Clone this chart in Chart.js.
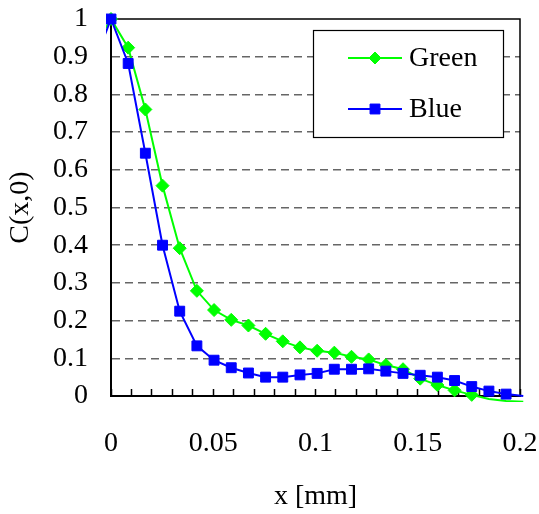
<!DOCTYPE html>
<html>
<head>
<meta charset="utf-8">
<script src="https://cdn.jsdelivr.net/npm/chart.js@4.4.1/dist/chart.umd.min.js"></script>
<style>
  html, body { margin: 0; padding: 0; background: #fff; }
  #wrap { width: 539px; height: 514px; position: relative; }
</style>
</head>
<body>
<div id="wrap"><canvas id="chart"></canvas></div>
<script>
// x positions [mm] (first and last points lie outside the axis range, as in the original)
const xValues = [-0.0084, 0, 0.0084, 0.0168, 0.0252, 0.0336, 0.042, 0.0504, 0.0588, 0.0672,
  0.0756, 0.084, 0.0924, 0.1008, 0.1092, 0.1176, 0.126, 0.1344, 0.1428, 0.1512,
  0.1596, 0.168, 0.1764, 0.1848, 0.1932, 0.2016, 0.21];

const greenValues = [0.924, 1.0, 0.924, 0.760, 0.558, 0.392, 0.279, 0.228, 0.202, 0.187,
  0.165, 0.145, 0.129, 0.120, 0.115, 0.104, 0.097, 0.082, 0.071, 0.046,
  0.029, 0.015, 0.003, -0.008, -0.013, -0.015, -0.016];

const blueValues = [0.882, 1.0, 0.882, 0.644, 0.40, 0.225, 0.133, 0.095, 0.075, 0.061,
  0.050, 0.050, 0.056, 0.060, 0.071, 0.071, 0.072, 0.066, 0.060, 0.055,
  0.050, 0.041, 0.025, 0.013, 0.005, 0.0, -0.004];

const seriesNames = ['Green', 'Blue'];
const xTitle = 'x [mm]';
const yTitle = 'C(x,0)';

const FONT = "'Liberation Serif', 'Times New Roman', serif";

function toPoints(ys) {
  return xValues.map((x, i) => ({ x: x, y: ys[i] }));
}

// Excel-like: markers only inside the axis range
function markerRadius(r) {
  return (ctx) => {
    const p = ctx.raw;
    if (!p || p.x < -1e-9 || p.x > 0.2 + 1e-9 || p.y < -0.002) return 0;
    return r;
  };
}

// frame (top + right) and legend box drawn on top of the plot
const framePlugin = {
  id: 'frame',
  beforeDatasetsDraw(chart) {
    const { ctx, chartArea: a } = chart;
    ctx.save();
    ctx.strokeStyle = '#000';
    ctx.lineWidth = 1.5;
    ctx.beginPath();
    ctx.moveTo(a.left, a.top);
    ctx.lineTo(a.right, a.top);
    ctx.lineTo(a.right, a.bottom);
    ctx.stroke();
    ctx.restore();
  },
  afterDraw(chart) {
    const { ctx } = chart;
    const box = { x: 313, y: 30, w: 190, h: 107 };
    ctx.save();
    ctx.fillStyle = '#fff';
    ctx.fillRect(box.x, box.y, box.w, box.h);
    ctx.strokeStyle = '#000';
    ctx.lineWidth = 1.2;
    ctx.strokeRect(box.x + 0.5, box.y + 0.5, box.w, box.h);

    const rows = [58, 109];
    chart.data.datasets.forEach((ds, i) => {
      const y = rows[i];
      ctx.strokeStyle = ds.borderColor;
      ctx.lineWidth = ds.borderWidth;
      ctx.beginPath();
      ctx.moveTo(348, y);
      ctx.lineTo(402, y);
      ctx.stroke();
      ctx.fillStyle = ds.backgroundColor;
      ctx.lineWidth = 1;
      Chart.helpers.drawPoint(ctx, {
        pointStyle: ds.pointStyle,
        radius: ds.legendRadius,
        borderWidth: 1,
        rotation: 0
      }, 375, y);
      ctx.fillStyle = '#000';
      ctx.font = '28px ' + FONT;
      ctx.textAlign = 'left';
      ctx.textBaseline = 'middle';
      ctx.fillText(ds.label, 409, y + 1);
    });
    ctx.restore();
  }
};

new Chart(document.getElementById('chart'), {
  type: 'line',
  data: {
    datasets: [
      {
        label: seriesNames[0],
        data: toPoints(greenValues),
        borderColor: '#00ff00',
        backgroundColor: '#00ff00',
        borderWidth: 2,
        pointStyle: 'rectRot',
        pointRadius: markerRadius(6.5),
        pointBorderWidth: 1,
        legendRadius: 6,
        tension: 0,
        order: 1,
        clip: { left: 5, top: 10, right: 10, bottom: 6 }
      },
      {
        label: seriesNames[1],
        data: toPoints(blueValues),
        borderColor: '#0000ff',
        backgroundColor: '#0000ff',
        borderWidth: 2,
        pointStyle: 'rect',
        pointRadius: markerRadius(7),
        pointBorderWidth: 1,
        legendRadius: 7,
        tension: 0,
        order: 0,
        clip: { left: 5, top: 10, right: 10, bottom: 6 }
      }
    ]
  },
  options: {
    responsive: true,
    maintainAspectRatio: false,
    animation: false,
    events: [],
    layout: { padding: { left: 0, top: 19, right: 19, bottom: 0 } },
    plugins: {
      legend: { display: false },
      tooltip: { enabled: false }
    },
    scales: {
      x: {
        type: 'linear',
        min: 0,
        max: 0.2,
        afterFit: (s) => { s.height = 118; s.paddingLeft = 0; s.paddingRight = 0; },
        border: { display: true, color: '#000', width: 2 },
        grid: {
          drawOnChartArea: false,
          drawTicks: true,
          tickLength: -7,
          tickColor: '#000',
          tickWidth: 1.5
        },
        ticks: {
          stepSize: 0.01,
          autoSkip: false,
          maxRotation: 0,
          padding: 38,
          color: '#000',
          font: { family: FONT, size: 28 },
          callback: (v) => {
            const k = Math.round(v * 100);
            return k % 5 === 0 ? String(Number((k / 100).toFixed(2))) : '';
          }
        },
        title: {
          display: true,
          text: xTitle,
          color: '#000',
          font: { family: FONT, size: 28, lineHeight: 1.2 },
          padding: { top: 0, bottom: 1 }
        }
      },
      y: {
        min: 0,
        max: 1,
        afterFit: (s) => { s.width = 111; s.paddingTop = 0; s.paddingBottom = 0; },
        border: { display: true, color: '#000', width: 2, dash: [8, 5] },
        grid: {
          drawTicks: false,
          lineWidth: 1.5,
          color: (c) => {
            const v = c.tick ? c.tick.value : 0;
            return (Math.abs(v) < 1e-9 || Math.abs(v - 1) < 1e-9) ? 'rgba(0,0,0,0)' : '#666';
          }
        },
        ticks: {
          stepSize: 0.1,
          autoSkip: false,
          padding: 23,
          color: '#000',
          font: { family: FONT, size: 28 },
          callback: (v) => String(Number(v.toFixed(1)))
        },
        title: {
          display: true,
          text: yTitle,
          color: '#000',
          font: { family: FONT, size: 28, lineHeight: 1.2 },
          padding: { top: 4, bottom: 0 }
        }
      }
    }
  },
  plugins: [framePlugin]
});
</script>
</body>
</html>
